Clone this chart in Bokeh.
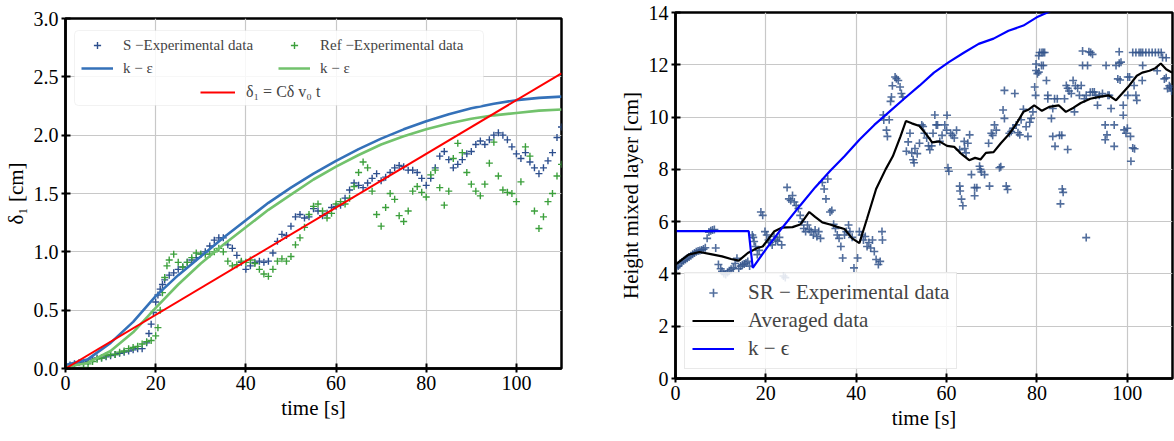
from bokeh.plotting import figure
from bokeh.models import (Legend, LegendItem, BoxAnnotation, FixedTicker,
                          NumeralTickFormatter, Range1d)
from bokeh.layouts import row
from bokeh.embed import file_html
from bokeh.resources import INLINE

FONT = "Liberation Serif"

# ---------------- Left panel data ----------------
s_t = [0, 1, 2, 3, 4, 5, 6, 7, 8, 9, 10, 11, 12, 13, 14, 15, 16, 17, 18, 18.5, 19, 19.5,
       20, 20.5, 21, 21.5, 22, 23, 24, 25, 26, 27, 28, 29, 30, 31, 32, 33, 34, 35, 36, 37,
       38, 39, 40, 41, 42, 43, 44, 45, 46, 47, 48, 49, 50, 51, 52, 53, 54, 55, 56, 57, 58,
       59, 60, 61, 62, 63, 64, 65, 66, 67, 68, 69, 70, 71, 72, 73, 74, 75, 76, 77, 78, 79,
       80, 81, 82, 83, 84, 85, 86, 87, 88, 89, 90, 91, 92, 93, 94, 95, 96, 97, 98, 99, 100,
       101, 102, 103, 104, 105, 106, 107, 108, 109, 110]
s_y = [0.03, 0.03, 0.04, 0.05, 0.05, 0.06, 0.08, 0.09, 0.09, 0.10, 0.11, 0.12, 0.13, 0.14,
       0.15, 0.16, 0.17, 0.17, 0.22, 0.30, 0.38, 0.48, 0.57, 0.63, 0.68, 0.72, 0.76, 0.80,
       0.82, 0.85, 0.87, 0.91, 0.93, 0.95, 0.98, 1.00, 1.05, 1.10, 1.12, 1.12, 1.06, 1.03,
       0.97, 0.91, 0.85, 0.88, 0.91, 0.92, 0.91, 0.92, 0.99, 1.09, 1.15, 1.14, 1.22, 1.30,
       1.32, 1.29, 1.30, 1.37, 1.35, 1.31, 1.33, 1.38, 1.39, 1.40, 1.46, 1.53, 1.59, 1.57,
       1.55, 1.59, 1.63, 1.67, 1.61, 1.64, 1.68, 1.72, 1.74, 1.73, 1.70, 1.70, 1.68, 1.63,
       1.57, 1.63, 1.72, 1.82, 1.86, 1.79, 1.72, 1.75, 1.79, 1.84, 1.86, 1.92, 1.95, 1.92,
       1.96, 2.00, 2.02, 2.00, 1.96, 1.90, 1.84, 1.80, 1.85, 1.77, 1.72, 1.67, 1.72, 1.78,
       1.85, 1.98, 2.07]

ref_t = [4, 5, 6, 7, 8, 9, 10, 11, 12, 13, 14, 15, 16, 17, 18, 19, 20, 20.5, 21, 21.5, 22,
         22.5, 23, 24, 25, 26, 27, 28, 29, 30, 31, 32, 33, 34, 35, 36, 37, 38, 39, 40, 41,
         42, 43, 44, 45, 46, 47, 48, 49, 50, 51, 52, 53, 54, 55, 56, 57, 58, 59, 60, 61, 62,
         63, 64, 65, 66, 67, 68, 69, 70, 71, 72, 73, 74, 75, 76, 77, 78, 79, 80, 81, 82, 83,
         84, 85, 86, 87, 88, 89, 90, 91, 92, 93, 94, 95, 96, 97, 98, 99, 100, 101, 102, 103,
         104, 105, 106, 107, 108, 109, 110]
ref_y = [0.01, 0.04, 0.06, 0.08, 0.09, 0.11, 0.12, 0.12, 0.14, 0.15, 0.17, 0.18, 0.19, 0.21,
         0.23, 0.24, 0.28, 0.35, 0.50, 0.65, 0.78, 0.88, 0.93, 0.98, 0.91, 0.87, 0.91, 0.95,
         0.99, 0.98, 0.98, 0.98, 1.00, 1.03, 1.00, 0.92, 0.88, 0.89, 0.92, 0.91, 0.93, 0.90,
         0.85, 0.81, 0.79, 0.85, 0.92, 0.94, 0.92, 0.96, 1.06, 1.12, 1.21, 1.32, 1.39, 1.41,
         1.35, 1.29, 1.33, 1.41, 1.43, 1.41, 1.46, 1.56, 1.68, 1.77, 1.72, 1.52, 1.32, 1.22,
         1.38, 1.50, 1.45, 1.31, 1.26, 1.35, 1.52, 1.56, 1.51, 1.47, 1.66, 1.70, 1.55, 1.40,
         1.52, 1.80, 1.93, 1.85, 1.68, 1.58, 1.52, 1.48, 1.58, 1.76, 1.94, 1.65, 1.53, 1.51,
         1.50, 1.43, 1.60, 1.90, 1.82, 1.35, 1.20, 1.30, 1.43, 1.50, 1.65, 1.75]

ke_t = [0, 5, 10, 15, 20, 25, 30, 35, 40, 45, 50, 55, 60, 65, 70, 75, 80, 85, 90, 95, 100,
        105, 110]
ke_s = [0.03, 0.08, 0.22, 0.40, 0.62, 0.80, 0.96, 1.12, 1.27, 1.42, 1.55, 1.67, 1.78, 1.88,
        1.97, 2.05, 2.12, 2.18, 2.23, 2.27, 2.30, 2.32, 2.33]
ke_ref = [0.01, 0.05, 0.15, 0.31, 0.52, 0.72, 0.90, 1.06, 1.21, 1.36, 1.49, 1.62, 1.73, 1.83,
          1.92, 1.99, 2.05, 2.10, 2.14, 2.17, 2.19, 2.21, 2.22]

lin_t = [0, 110]
lin_y = [0.0, 2.53]

# ---------------- Right panel data ----------------
sr_pts = [
    (0.2, 4.23), (0.6, 4.3), (1.0, 4.4), (1.4, 4.45), (1.8, 4.5), (2.2, 4.55), (2.6, 4.6),
    (3.0, 4.65), (3.4, 4.7), (3.8, 4.75), (4.2, 4.8), (4.6, 4.85), (5.0, 4.88), (5.4, 4.9),
    (5.8, 4.92), (6.2, 4.95), (6.6, 5.0), (7.0, 5.36), (7.4, 5.6), (7.8, 5.65), (8.2, 5.68),
    (8.6, 5.7), (8.9, 4.99), (9.5, 4.36), (10.0, 4.2), (10.3, 4.1), (10.7, 4.02), (11.1, 3.98),
    (11.5, 4.05), (11.9, 4.12), (12.3, 4.18), (12.8, 4.23), (13.2, 4.4), (13.6, 4.6),
    (14.0, 4.2), (14.4, 4.3), (14.8, 4.35), (15.2, 4.38), (15.6, 4.42), (16.0, 4.48),
    (16.4, 4.3), (17.0, 5.49), (17.2, 5.4), (17.4, 5.24), (17.7, 5.05), (18.1, 4.74),
    (18.5, 4.9), (18.9, 6.37), (19.3, 6.24), (19.8, 5.62), (20.2, 5.49), (20.6, 5.3),
    (21.0, 5.2), (21.4, 5.11), (21.8, 5.43), (22.2, 5.30), (22.6, 5.25), (23.0, 5.4),
    (23.5, 5.11), (23.9, 3.92), (24.3, 3.86), (24.7, 7.31), (25.1, 6.87), (25.5, 6.81),
    (25.9, 7.0), (26.3, 6.75), (26.7, 6.62), (27.2, 6.5), (27.6, 6.24), (28.0, 5.99),
    (28.4, 5.74), (28.8, 5.62), (29.2, 5.87), (29.6, 5.7), (30.0, 5.62), (30.5, 5.49),
    (30.9, 5.68), (31.3, 5.43), (31.7, 5.62), (32.1, 5.36), (32.5, 7.5), (32.9, 7.25),
    (33.3, 6.87), (33.7, 7.63), (34.2, 6.37), (34.6, 6.43), (35.0, 5.9), (35.4, 5.74),
    (35.8, 5.49), (36.2, 5.36), (36.6, 5.05), (37.0, 4.61), (37.4, 5.49), (37.8, 5.62),
    (38.3, 5.87), (38.6, 5.62), (39.1, 5.4), (39.5, 4.23), (40.3, 4.61), (40.7, 5.62),
    (41.2, 5.49), (41.6, 5.3), (42.0, 5.43), (42.4, 5.05), (42.8, 5.2), (43.2, 4.99),
    (43.6, 5.3), (44.0, 4.86), (44.4, 4.55), (44.9, 4.36), (45.3, 4.48), (45.7, 5.62),
    (45.8, 5.3),
    (46.0, 10.08), (46.1, 9.89), (46.7, 9.5), (46.9, 9.26), (47.3, 9.9), (47.6, 10.6),
    (47.8, 10.77), (48.0, 11.2), (48.6, 11.53), (48.9, 11.47), (49.3, 11.4), (49.7, 11.15),
    (50.0, 10.9), (50.3, 10.77), (51.1, 8.69), (51.5, 9.05), (51.9, 9.38), (52.3, 8.63),
    (52.6, 8.37), (52.8, 8.25), (53.0, 8.8), (53.5, 8.6), (54.0, 9.0), (54.5, 9.7),
    (54.8, 9.64), (55.1, 9.38), (55.6, 9.2), (56.0, 8.9), (56.3, 8.75), (56.7, 8.9),
    (57.0, 9.38), (57.4, 10.08), (57.7, 9.7), (58.0, 9.7), (58.5, 9.07), (59.0, 9.3),
    (59.6, 9.7), (60.0, 9.5), (60.1, 10.07), (60.3, 8.06), (60.5, 7.93), (60.9, 9.38),
    (61.3, 9.3), (61.7, 9.2), (62.2, 9.5), (62.9, 8.75), (62.9, 7.36), (63.0, 7.17),
    (63.3, 6.86), (63.6, 6.61), (63.9, 9.07), (64.0, 8.8), (64.3, 8.63), (64.7, 9.0),
    (65.1, 9.32), (65.5, 7.8), (66.2, 6.99), (66.2, 7.3), (66.7, 7.3), (67.3, 8.12),
    (67.5, 8.0), (67.7, 7.9), (68.4, 7.8), (69.3, 9.0), (69.5, 7.36), (69.9, 9.38),
    (70.2, 9.3), (70.6, 9.7), (71.0, 9.5), (71.7, 8.06), (72.0, 8.1), (72.5, 10.27),
    (72.8, 9.95), (72.8, 11.02), (73.2, 7.36), (73.5, 7.23), (73.9, 9.38), (74.3, 9.45),
    (74.7, 9.57), (75.1, 10.9), (75.4, 9.7), (75.8, 9.4), (76.2, 9.32), (76.5, 9.9),
    (77.0, 10.3), (77.6, 9.63), (78.0, 9.26), (78.4, 9.8), (78.7, 9.95), (79.1, 10.2),
    (79.5, 11.15), (79.8, 11.78), (79.8, 12.03),
    (79.7, 10.83), (80.1, 11.66), (80.4, 11.72), (80.4, 12.35), (80.6, 12.47), (81.0, 11.97),
    (81.1, 12.47), (81.4, 12.47), (81.4, 11.97), (81.7, 12.47), (82.1, 11.4), (82.4, 10.83),
    (82.4, 10.7), (83.2, 9.95), (83.5, 10.33), (83.5, 9.26), (83.9, 10.7), (84.0, 8.88),
    (84.5, 10.7), (85.0, 9.3), (85.2, 6.68), (85.6, 7.25), (85.8, 7.12), (85.5, 9.3),
    (86.1, 10.7), (86.5, 11.21), (86.8, 8.76), (86.8, 11.1), (87.1, 11.0), (87.6, 10.9),
    (88.0, 11.4), (88.3, 10.2), (88.5, 11.2), (89.0, 11.1), (89.4, 10.83), (89.8, 11.21),
    (90.1, 12.53), (90.1, 11.97), (90.5, 10.7), (90.9, 5.39), (90.9, 10.83), (91.2, 11.97),
    (91.5, 12.5), (91.8, 10.95), (91.9, 12.47), (92.3, 12.4), (92.3, 10.96), (92.7, 10.96),
    (93.0, 10.83), (93.4, 10.45), (93.8, 10.83), (94.5, 10.9), (95.1, 9.7), (95.1, 9.13),
    (95.5, 9.32), (95.3, 11.97), (95.7, 10.83), (96.0, 10.83), (96.4, 10.33), (97.1, 9.7),
    (97.1, 8.88), (97.5, 11.97), (97.9, 11.46), (98.2, 12.06), (98.2, 12.5), (98.4, 11.42),
    (98.6, 12.1), (99.1, 10.45), (99.1, 10.07), (99.3, 9.51), (99.7, 9.38), (100.0, 9.57),
    (100.1, 10.83), (100.1, 11.53), (100.5, 11.53), (100.7, 9.26), (100.8, 8.31),
    (101.2, 8.82), (101.6, 8.79), (101.2, 12.47), (101.5, 11.21), (101.9, 10.83),
    (101.9, 12.47), (102.1, 10.64), (102.6, 12.47), (103.0, 12.47), (103.3, 11.4),
    (103.4, 11.97), (103.4, 12.47), (104.1, 12.47), (104.8, 12.47), (105.5, 12.47),
    (106.2, 12.47), (106.6, 11.77), (106.9, 12.47), (107.5, 12.47), (107.8, 12.28),
    (108.2, 11.46), (108.6, 12.27), (108.6, 11.5), (108.9, 11.09), (109.3, 11.2),
    (109.5, 11.14), (109.8, 11.0)]
sr_t = [p[0] for p in sr_pts]
sr_y = [p[1] for p in sr_pts]

avg_t = [0, 2.9, 5.3, 7.8, 10.3, 12.3, 14.0, 16.0, 18.1, 19.3, 20.6, 21.8, 23.5, 25.9, 27.6,
         29.6, 30.9, 32.5, 34.2, 35.8, 37.4, 39.1, 40.7, 42.4, 44.4, 46.5, 48.1, 49.8, 51.0,
         52.3, 54.0, 55.6, 56.8, 58.4, 60.1, 61.7, 63.4, 65.0, 66.3, 67.5, 68.7, 70.4, 72.0,
         73.7, 75.3, 77.0, 78.2, 79.4, 81.1, 82.7, 84.8, 86.4, 88.1, 89.7, 91.8, 93.8, 95.9,
         97.5, 98.8, 100.4, 102.1, 103.3, 104.9, 106.2, 107.4, 108.6, 109.9]
avg_y = [4.36, 4.74, 4.84, 4.76, 4.67, 4.57, 4.51, 4.80, 4.99, 5.05, 5.34, 5.62, 5.77, 5.79,
         5.89, 6.37, 6.18, 5.97, 5.89, 5.80, 5.72, 5.36, 5.18, 6.12, 7.25, 8.00, 8.50, 9.26,
         9.85, 9.76, 9.66, 9.32, 9.03, 9.07, 8.90, 8.86, 8.57, 8.35, 8.44, 8.38, 8.63, 8.66,
         9.00, 9.32, 9.70, 10.20, 10.29, 10.45, 10.24, 10.39, 10.45, 10.20, 10.36, 10.54,
         10.70, 10.77, 10.83, 10.64, 10.89, 11.20, 11.58, 11.70, 11.77, 11.87, 12.05, 11.83,
         11.70]

kem_t = [0, 16.2, 17.1, 20.2, 23.5, 27.6, 30.9, 34.2, 37.4, 40.7, 44.0, 47.3, 50.6, 54.0,
         57.2, 60.5, 63.8, 67.1, 70.4, 73.7, 77.0, 80.2, 82.3, 84.0]
kem_y = [5.64, 5.64, 4.23, 4.99, 5.74, 6.62, 7.31, 7.94, 8.50, 9.13, 9.70, 10.20, 10.70,
         11.20, 11.70, 12.10, 12.46, 12.80, 13.00, 13.30, 13.50, 13.84, 14.00, 14.15]

x_ticks = [0, 20, 40, 60, 80, 100]
y1_ticks = [0.0, 0.5, 1.0, 1.5, 2.0, 2.5, 3.0]
y2_ticks = [0, 2, 4, 6, 8, 10, 12, 14]


def style(p, xlabel, ylabel, yticks):
    p.xaxis.axis_label = xlabel
    p.yaxis.axis_label = ylabel
    p.xaxis.ticker = FixedTicker(ticks=x_ticks)
    p.yaxis.ticker = FixedTicker(ticks=yticks)
    for ax in (p.xaxis[0], p.yaxis[0]):
        ax.axis_label_text_font = FONT
        ax.axis_label_text_font_size = "21px"
        ax.axis_label_text_font_style = "normal"
        ax.axis_label_text_color = "black"
        ax.axis_label_standoff = 3
        ax.major_label_text_font = FONT
        ax.major_label_text_font_size = "20px"
        ax.major_label_text_color = "black"
        ax.major_label_standoff = 3
        ax.axis_line_color = "black"
        ax.axis_line_width = 2.5
        ax.major_tick_line_color = "black"
        ax.major_tick_line_width = 2
        ax.major_tick_in = 5
        ax.major_tick_out = 4
        ax.minor_tick_line_color = None
    p.outline_line_color = "black"
    p.outline_line_width = 2.5
    p.outline_line_alpha = 1.0
    p.xgrid.ticker = FixedTicker(ticks=x_ticks)
    p.ygrid.ticker = FixedTicker(ticks=yticks)
    p.grid.grid_line_color = "#c8c8c8"
    p.grid.grid_line_width = 1.2
    p.background_fill_color = "white"
    p.border_fill_color = "white"
    p.frame_align = False


# ---------------- Left figure ----------------
p1 = figure(width=575, height=441, output_backend="svg", toolbar_location=None,
            x_range=Range1d(0, 110), y_range=Range1d(0, 3),
            min_border_left=64, min_border_right=14, min_border_top=18, min_border_bottom=73)
style(p1, "time [s]", "δ₁ [cm]", y1_ticks)
p1.yaxis.formatter = NumeralTickFormatter(format="0.0")

r_s = p1.scatter(s_t, s_y, marker="cross", size=7, line_width=1.4, color="#2d4f8e")
r_ref = p1.scatter(ref_t, ref_y, marker="cross", size=7, line_width=1.4, color="#3ca03c")
r_kes = p1.line(ke_t, ke_s, line_color="#3471b9", line_width=2.6)
r_ker = p1.line(ke_t, ke_ref, line_color="#72c26c", line_width=2.6)
r_lin = p1.line(lin_t, lin_y, line_color="#ff0000", line_width=2)

legbox = BoxAnnotation(left=9, right=418, top=338, bottom=263,
                       left_units="screen", right_units="screen",
                       top_units="screen", bottom_units="screen",
                       fill_color="white", fill_alpha=0.85,
                       line_color="#d4d4d4", line_width=1, border_radius=4)
p1.add_layout(legbox)

legA = Legend(items=[LegendItem(label="S −Experimental data", renderers=[r_s]),
                     LegendItem(label="k − ε", renderers=[r_kes]),
                     LegendItem(label="Ref −Experimental data", renderers=[r_ref]),
                     LegendItem(label="k − ε", renderers=[r_ker])],
              nrows=2, location=(10, 285), padding=6, spacing=5, margin=0,
              glyph_width=32, glyph_height=18, label_standoff=10, label_width=150,
              label_text_font=FONT, label_text_font_size="15px",
              background_fill_alpha=0, border_line_alpha=0)
legB = Legend(items=[LegendItem(label="δ₁ = Cδ v₀ t", renderers=[r_lin])],
              location=(129, 261), padding=6, spacing=0, margin=0,
              glyph_width=35, glyph_height=18, label_standoff=11,
              label_text_font=FONT, label_text_font_size="16px",
              background_fill_alpha=0, border_line_alpha=0)
p1.add_layout(legA)
p1.add_layout(legB)

# ---------------- Right figure ----------------
p2 = figure(width=599, height=441, output_backend="svg", toolbar_location=None,
            x_range=Range1d(0, 110), y_range=Range1d(0, 14),
            min_border_left=100, min_border_right=2, min_border_top=12, min_border_bottom=63)
style(p2, "time [s]", "Height mixed layer [cm]", y2_ticks)

r_sr = p2.scatter(sr_t, sr_y, marker="cross", size=8, line_width=1.6,
                  color="#34558c", alpha=0.85)
r_avg = p2.line(avg_t, avg_y, line_color="black", line_width=2.2)
r_kem = p2.line(kem_t, kem_y, line_color="#0000ff", line_width=2.2)

legC = Legend(items=[LegendItem(label="SR − Experimental data", renderers=[r_sr]),
                     LegendItem(label="Averaged data", renderers=[r_avg]),
                     LegendItem(label="k − ϵ", renderers=[r_kem])],
              location="bottom_left", margin=9, padding=7, spacing=3,
              glyph_width=42, glyph_height=21, label_standoff=14,
              label_text_font=FONT, label_text_font_size="21px",
              background_fill_color="white", background_fill_alpha=0.85,
              border_line_color="#d4d4d4", border_line_width=1)
p2.add_layout(legC)

layout = row(p1, p2)
open("out.html", "w").write(file_html(layout, INLINE))
